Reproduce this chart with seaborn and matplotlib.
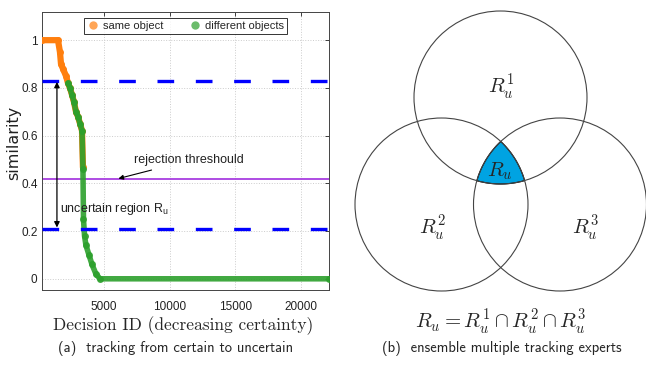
import numpy as np
import pandas as pd
import matplotlib
matplotlib.use("Agg")
import matplotlib.pyplot as plt
from matplotlib.lines import Line2D
from matplotlib.patches import Circle, Polygon
import seaborn as sns

# ---------------- data ----------------
same_x = [260, 1500, 1650, 1730, 1880, 2110, 2260, 2410, 2570, 2720, 2870, 3020, 3180, 3330, 3400, 3400, 3400]
same_y = [1.0, 1.0, 0.95, 0.90, 0.88, 0.85, 0.82, 0.80, 0.77, 0.74, 0.70, 0.68, 0.65, 0.62, 0.55, 0.45, 0.40]

diff_x = [2260, 2410, 2570, 2720, 2870, 3020, 3180, 3330, 3400, 3400, 3400, 3440, 3520, 3630, 3860, 4090, 4390, 4700, 22130]
diff_y = [0.82, 0.80, 0.77, 0.74, 0.70, 0.68, 0.65, 0.62, 0.55, 0.45, 0.38, 0.25, 0.18, 0.14, 0.10, 0.06, 0.02, 0.0, 0.0]

upper_bound = 0.83
lower_bound = 0.21
rejection = 0.42

x_ticks = [5000, 10000, 15000, 20000]
y_ticks = [0, 0.2, 0.4, 0.6, 0.8, 1.0]
y_ticklabels = ["0", "0.2", "0.4", "0.6", "0.8", "1"]

series_labels = ["same object", "different objects"]
venn_labels = [r"$R_u^1$", r"$R_u^2$", r"$R_u^3$"]

# ---------------- style ----------------
sns.set_style("white")
plt.rcParams["font.family"] = ["Liberation Sans", "DejaVu Sans"]
plt.rcParams["mathtext.fontset"] = "cm"

W, H = 646, 383
fig = plt.figure(figsize=(W / 100, H / 100), dpi=100)

ORANGE = "#ff7f0e"
GREEN = "#2ca02c"

ax = fig.add_axes([41.7 / W, 1 - 290 / H, (329 - 41.7) / W, (290 - 12) / H])

df_same = pd.DataFrame({"x": same_x, "y": same_y})
df_diff = pd.DataFrame({"x": diff_x, "y": diff_y})

sns.lineplot(data=df_same, x="x", y="y", ax=ax, color=ORANGE, lw=4.5, sort=False,
             marker="o", markersize=5, markeredgewidth=0, solid_capstyle="round", zorder=3)
sns.lineplot(data=df_diff, x="x", y="y", ax=ax, color=GREEN, lw=4.0, sort=False,
             marker="o", markersize=5, markeredgewidth=0, solid_capstyle="round", zorder=4,
             alpha=0.9)

ax.axhline(upper_bound, color="#0000ff", lw=2.4, dashes=(5, 6.5), zorder=5)
ax.axhline(lower_bound, color="#0000ff", lw=2.4, dashes=(5, 6.5), zorder=5)
ax.axhline(rejection, color="#a83ee0", lw=1.3, zorder=2)

ax.set_xlim(260, 22130)
ax.set_ylim(-0.047, 1.118)
ax.set_xticks(x_ticks)
ax.set_yticks(y_ticks)
ax.set_yticklabels(y_ticklabels)
ax.tick_params(axis="both", direction="in", length=3, width=0.6, labelsize=8.5,
               top=True, right=True, colors="#222222", pad=3)
ax.tick_params(axis="x", pad=8)
ax.grid(True, ls=":", color="#cccccc", lw=0.7)
for s in ax.spines.values():
    s.set_color("#444444")
    s.set_linewidth(0.7)
ax.set_xlabel("")
ax.set_ylabel("")
fig.text(14 / W, 1 - 143 / H, "similarity", fontsize=11.5, rotation=90,
         ha="center", va="center", family=["DejaVu Sans"], color="#222222")

# double arrow for the uncertain region
ax.annotate("", xy=(1420, lower_bound + 0.005), xytext=(1420, upper_bound - 0.005),
            arrowprops=dict(arrowstyle="<|-|>", color="black", lw=0.9,
                            mutation_scale=8, shrinkA=0, shrinkB=0), zorder=6)
ax.text(1650, 0.294, r"uncertain region R$_\mathregular{u}$", fontsize=9,
        va="center", ha="left", color="#222222", zorder=6)
ax.annotate("rejection threshould", xy=(6100, rejection), xytext=(7300, 0.496),
            fontsize=9, va="center", ha="left", color="#222222",
            arrowprops=dict(arrowstyle="-|>", color="black", lw=0.8,
                            mutation_scale=7, shrinkA=1, shrinkB=0), zorder=6)

handles = [Line2D([], [], ls="none", marker="o", markersize=6, color=ORANGE, alpha=0.7, markeredgewidth=0),
           Line2D([], [], ls="none", marker="o", markersize=6, color=GREEN, alpha=0.7, markeredgewidth=0)]
leg = ax.legend(handles, series_labels, loc="upper center", bbox_to_anchor=(0.5, 0.985), ncol=2,
                fontsize=8, frameon=True, fancybox=False, borderpad=0.25, handletextpad=0.3,
                columnspacing=2.2, handlelength=1.2, borderaxespad=0.2)
leg.get_frame().set_edgecolor("black")
leg.get_frame().set_linewidth(0.7)

fig.text(183 / W, 1 - 326 / H, "Decision ID (decreasing certainty)", fontsize=12.5,
         family="cmr10", ha="center", va="center")
fig.text(176 / W, 1 - 349 / H, "(a)  tracking from certain to uncertain", fontsize=10.5,
         family="cmss10", ha="center", va="center")

# ---------------- Venn panel ----------------
ax2 = fig.add_axes([330 / W, 0, (W - 330) / W, 1])
ax2.set_xlim(330, W)
ax2.set_ylim(H, 0)
ax2.axis("off")

centers = [(500.5, 97.5), (441.5, 204.5), (560.0, 204.5)]
r = 86.5

# triple intersection polygon
pts = []
for (cx, cy) in centers:
    t = np.linspace(0, 2 * np.pi, 2000)
    px = cx + r * np.cos(t)
    py = cy + r * np.sin(t)
    inside = np.ones_like(px, dtype=bool)
    for (ox, oy) in centers:
        inside &= (px - ox) ** 2 + (py - oy) ** 2 <= r ** 2 + 0.5
    pts.append(np.column_stack([px[inside], py[inside]]))
pts = np.vstack(pts)
c0 = pts.mean(axis=0)
order = np.argsort(np.arctan2(pts[:, 1] - c0[1], pts[:, 0] - c0[0]))
ax2.add_patch(Polygon(pts[order], closed=True, facecolor="#00a3e2", edgecolor="black", lw=0.8, zorder=1))

for (cx, cy) in centers:
    ax2.add_patch(Circle((cx, cy), r, fill=False, edgecolor="#444444", lw=0.8, zorder=2))

label_pos = [(501, 87), (432, 228), (585, 228)]
for (lx, ly), lab in zip(label_pos, venn_labels):
    ax2.text(lx, ly, lab, fontsize=15, ha="center", va="center")
ax2.text(500, 171, r"$R_u$", fontsize=15, ha="center", va="center", zorder=3)
ax2.text(501, 322, r"$R_u = R_u^1 \cap R_u^2 \cap R_u^3$", fontsize=15, ha="center", va="center")

fig.text(502 / W, 1 - 349 / H, "(b)  ensemble multiple tracking experts", fontsize=10.5,
         family="cmss10", ha="center", va="center")

fig.savefig("out.png", dpi=100)
